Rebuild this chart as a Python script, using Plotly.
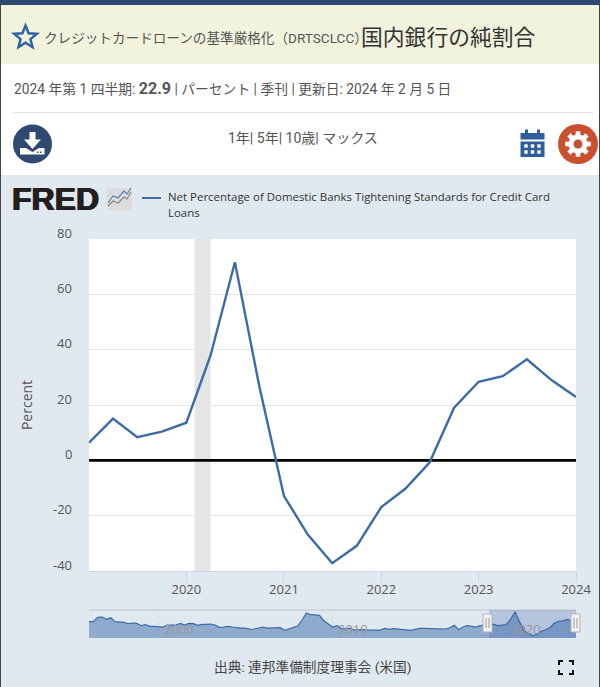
import math

import pandas as pd
import plotly.graph_objects as go

W, H = 600, 687
_BG = "#e1e9f0"
_BLUE = "#3c6ca8"
_NAVY = "#2f4a72"
_TEXT = "#555555"
_CJK = "Roboto, 'Noto Sans CJK JP', sans-serif"
_OPEN = "'Open Sans', 'Noto Sans CJK JP', sans-serif"

# main series, quarterly from 2019 Q1 to 2024 Q1
VALUES = [6.4, 15.1, 8.4, 10.4, 13.6, 38.0, 71.6, 26.6, -12.9, -26.9, -37.2, -30.9, -16.9,
          -10.3, -0.8, 19.0, 28.4, 30.4, 36.5, 29.0, 22.9]
# older history that only shows in the navigator, 1996 Q1 to 2018 Q4
HISTORY = [26.3, 26.3, 45.9, 47.4, 36.9, 44.4, 26.3, 24.8, 23.3, 17.2, 20.3, 18.8, 8.2, 12.7, 5.2, 5.2,
           3.6, 2.1, 11.2, 11.2, 11.2, 18.8, 11.2, 18.8, 17.2, 9.7, 14.2, 14.2, 15.7, 11.2, 0.6, 2.1,
           5.2, 2.1, -0.9, -2.4, -2.4, -8.4, -6.9, -3.9, 2.1, -2.4, -2.4, -2.4, -0.9, -13.0, -5.4, 0.6,
           6.7, 33.9, 65.6, 58.0, 56.5, 55.0, 30.8, 15.7, 2.1, 8.2, -3.9, -6.9, -2.4, -11.5, -9.9, -9.9,
           -11.5, -11.5, -11.5, -11.5, -3.9, -8.4, -5.4, -6.9, -8.4, -9.9, -13.0, -8.4, -3.9, -3.9, -3.9,
           -6.9, -3.9, -5.4, -6.9, -0.9, 9.7, -9.9, 2.1, 8.2, 3.6, 2.1, 8.2, 11.2]
Y_TICKS = [80, 60, 40, 20, 0, -20, -40]
X_TICKS = ["2020-01-01", "2021-01-01", "2022-01-01", "2023-01-01", "2024-01-01"]
X_LABELS = ["2020", "2021", "2022", "2023", "2024"]
NAV_TICKS = ["2000-01-01", "2010-01-01", "2020-01-01"]
NAV_LABELS = ["2000", "2010", "2020"]
RECESSION = ["2020-02-01", "2020-04-01"]
X_RANGE = ["2019-01-01", "2024-01-01"]

dates = pd.date_range("2019-01-01", periods=len(VALUES), freq="QS")
nav_dates = pd.date_range("1996-01-01", periods=len(HISTORY) + len(VALUES), freq="QS")
nav_values = HISTORY + VALUES
NAV_MIN, NAV_MAX = -47.6, 79.3


def px(x):
    return x / W


def py(y):
    return 1 - y / H


def pts(points, close=True):
    d = "M" + " L".join(f"{px(x):.5f},{py(y):.5f}" for x, y in points)
    return d + (" Z" if close else "")


def rect(x0, y0, x1, y1, color, layer="above", **kw):
    return dict(type="rect", xref="paper", yref="paper", x0=px(x0), x1=px(x1), y0=py(y0), y1=py(y1),
                fillcolor=color, line_width=0, layer=layer, **kw)


def circle(cx, cy, r, color):
    return dict(type="circle", xref="paper", yref="paper", x0=px(cx - r), x1=px(cx + r), y0=py(cy - r),
                y1=py(cy + r), fillcolor=color, line_width=0, layer="above")


def poly(points, color=None, line=None, width=0, close=True):
    return dict(type="path", xref="paper", yref="paper", path=pts(points, close), fillcolor=color,
                line=dict(color=line, width=width), layer="above")


def text(x, y, s, size, color=_TEXT, anchor="left", family=_CJK, **font_kw):
    return dict(xref="paper", yref="paper", x=px(x), y=py(y), text=s, showarrow=False, xanchor=anchor,
                yanchor="middle", font=dict(size=size, color=color, family=family, **font_kw))


star = []
for i in range(10):
    r = 12 if i % 2 == 0 else 5.2
    a = math.radians(-90 + 36 * i)
    star.append((25.5 + r * math.cos(a), 37.5 + r * math.sin(a)))

gear = []
for i in range(8):
    a = 45 * i
    for off, r in [(-15, 9.5), (-10, 13), (10, 13), (15, 9.5)]:
        gear.append((578 + r * math.cos(math.radians(a + off)), 144 + r * math.sin(math.radians(a + off))))

shapes = [
    # page blocks
    rect(0, 0, 600, 175, "white", "below"),
    rect(0, 5, 600, 64, "#f1f3dd", "below"),
    rect(0, 0, 600, 5, _NAVY, "below"),
    rect(13, 112, 593, 113, "#dde6f0", "below"),
    rect(0, 0, 1, 687, "#444444"),
    rect(599, 0, 600, 687, "#444444"),
    rect(89, 239, 576, 571, "white", "below"),
    # recession band and zero line, above the grid
    dict(type="rect", xref="x", yref="y", x0=RECESSION[0], x1=RECESSION[1], y0=-40, y1=80,
         fillcolor="#e5e5e5", line_width=0, layer="between"),
    dict(type="line", xref="x", yref="y", x0=X_RANGE[0], x1=X_RANGE[1], y0=0, y1=0,
         line=dict(color="black", width=2.6), layer="between"),
    # star
    poly(star, None, "#2c5fa6", 2.4),
    # download button
    circle(32.5, 144, 19.5, _NAVY),
    poly([(29.5, 132), (35.5, 132), (35.5, 139.5), (41, 139.5), (32.5, 149), (24, 139.5), (29.5, 139.5)], "white"),
    poly([(20, 148), (26, 148), (32.5, 152), (39, 148), (44.5, 148), (44.5, 154.5), (20, 154.5)], "white"),
    rect(37, 151.5, 38.5, 153, _NAVY),
    rect(40, 151.5, 41.5, 153, _NAVY),
    # calendar
    rect(520.5, 133, 544.5, 139.5, "#2f5da0"),
    rect(520.5, 141.5, 544.5, 157, "#2f5da0"),
    rect(525, 129.5, 528, 134, "#2f5da0"),
    rect(537, 129.5, 540, 134, "#2f5da0"),
    # gear button
    circle(578, 144, 20, "#c9502f"),
    poly(gear, "white"),
    circle(578, 144, 4.5, "#c9502f"),
    # FRED mark
    rect(107, 188, 132, 210, "#dddddd"),
    poly([(108, 206), (113, 201), (118, 203), (124, 197), (127, 199), (131, 192)], None, "#888888", 1.2, False),
    poly([(108, 203), (113, 196), (118, 198), (124, 191), (127, 194), (131, 188)], None, "#5b86b8", 1.2, False),
    # legend key
    rect(142, 197, 161, 199, _BLUE),
    # navigator frame, selection and handles
    rect(89, 609, 576, 611, "#d2d6dc"),
    dict(type="rect", xref="x2", yref="y2 domain", x0="2019-01-01", x1="2024-01-01", y0=0, y1=1,
         fillcolor="rgba(51,92,173,0.25)", line_width=0, layer="above"),
    # fullscreen icon
    poly([(559, 665), (559, 661), (563, 661)], None, "#111111", 2, False),
    poly([(569, 661), (573, 661), (573, 665)], None, "#111111", 2, False),
    poly([(559, 670), (559, 674), (563, 674)], None, "#111111", 2, False),
    poly([(569, 674), (573, 674), (573, 670)], None, "#111111", 2, False),
]
for cx in (487.5, 575.5):
    shapes.append(dict(type="rect", xref="paper", yref="paper", x0=px(cx - 4.5), x1=px(cx + 4.5), y0=py(614),
                       y1=py(632), fillcolor="#f2f2f2", line=dict(color="#b5b5b5", width=1), layer="above"))
    shapes.append(rect(cx - 2, 618, cx - 1, 628, "#999999"))
    shapes.append(rect(cx + 1, 618, cx + 2, 628, "#999999"))
for col in (526, 532.5, 539):
    for row in (146, 152):
        shapes.append(rect(col - 1.7, row - 1.7, col + 1.7, row + 1.7, "white"))

annotations = [
    text(42, 38, "クレジットカードローンの基準厳格化（DRTSCLCC）", 13.6),
    text(359, 37, "国内銀行の純割合", 21.8, "#333333"),
    text(11.5, 88, "2024 年第 1 四半期: <b><span style=\"font-size:16px\">22.9</span></b> | パーセント | 季刊 | "
                   "更新日: 2024 年 2 月 5 日", 13.8),
    text(303, 138, "1年| 5年| 10歳| マックス", 14, anchor="center"),
    text(10, 199, "<b>FRED</b>", 32, "#231f20", family="'Liberation Sans', Arial, sans-serif",
         shadow="0.7px 0 0 #231f20, -0.7px 0 0 #231f20"),
    text(165.5, 197, "Net Percentage of Domestic Banks Tightening Standards for Credit Card", 11.45, "#333333", family=_OPEN),
    text(165.5, 212, "Loans", 11.45, "#333333", family=_OPEN),
    text(313, 667, "出典: 連邦準備制度理事会 (米国)", 13.7, "#444444", anchor="center"),
]
for v in Y_TICKS:
    annotations.append(dict(xref="paper", yref="y", x=px(73.5), y=v, yshift=6.5, text=str(v), showarrow=False,
                            xanchor="right", yanchor="middle", font=dict(size=13, color=_TEXT, family=_OPEN)))
for d, s in zip(NAV_TICKS, NAV_LABELS):
    annotations.append(dict(xref="x2", yref="paper", x=d, y=py(629), xshift=3, text=s, showarrow=False,
                            xanchor="left", yanchor="middle", font=dict(size=13, color="#999999", family=_OPEN)))

fig = go.Figure()
fig.add_trace(go.Scatter(x=dates, y=VALUES, mode="lines", line=dict(color=_BLUE, width=2.4),
                         name="Net Percentage of Domestic Banks Tightening Standards for Credit Card Loans",
                         showlegend=False))
fig.add_trace(go.Scatter(x=nav_dates, y=[NAV_MIN] * len(nav_values), mode="lines", line_width=0, xaxis="x2",
                         yaxis="y2", showlegend=False, hoverinfo="skip"))
fig.add_trace(go.Scatter(x=nav_dates, y=nav_values, mode="lines", line=dict(color=_BLUE, width=1.2), xaxis="x2",
                         yaxis="y2", fill="tonexty", fillcolor="rgba(60,108,168,0.5)", showlegend=False))

fig.update_layout(
    width=W,
    height=H,
    autosize=False,
    margin=dict(l=0, r=0, t=0, b=0),
    paper_bgcolor=_BG,
    plot_bgcolor=_BG,
    font=dict(family=_OPEN, size=13, color=_TEXT),
    shapes=shapes,
    annotations=annotations,
    xaxis=dict(domain=[px(89), px(576)], range=X_RANGE, tickvals=X_TICKS, ticktext=X_LABELS, automargin=False,
               ticks="outside", ticklen=10, tickcolor="#ccd6eb", showgrid=False, showline=True, linecolor="#ccd6eb",
               anchor="y", tickfont=dict(size=13, color=_TEXT), ticklabelstandoff=-4),
    yaxis=dict(domain=[py(571), py(239)], range=[-40, 80], tickvals=Y_TICKS, showticklabels=False, ticks="",
               gridcolor="#e6e6e6", gridwidth=1.2, zeroline=False, anchor="x", automargin=False,
               title=dict(text="Percent", standoff=52, font=dict(size=14, color=_TEXT))),
    xaxis2=dict(domain=[px(89), px(576)], range=["1996-01-01", "2024-01-01"], tickvals=NAV_TICKS, automargin=False,
                showticklabels=False, ticks="", gridcolor="#d5dbe2", griddash="dot", anchor="y2", zeroline=False),
    yaxis2=dict(domain=[py(638), py(610)], range=[NAV_MIN, NAV_MAX], visible=False, anchor="x2"),
)

fig.write_html("out.html", config={"displayModeBar": False}, post_script="document.body.style.margin='0';")
